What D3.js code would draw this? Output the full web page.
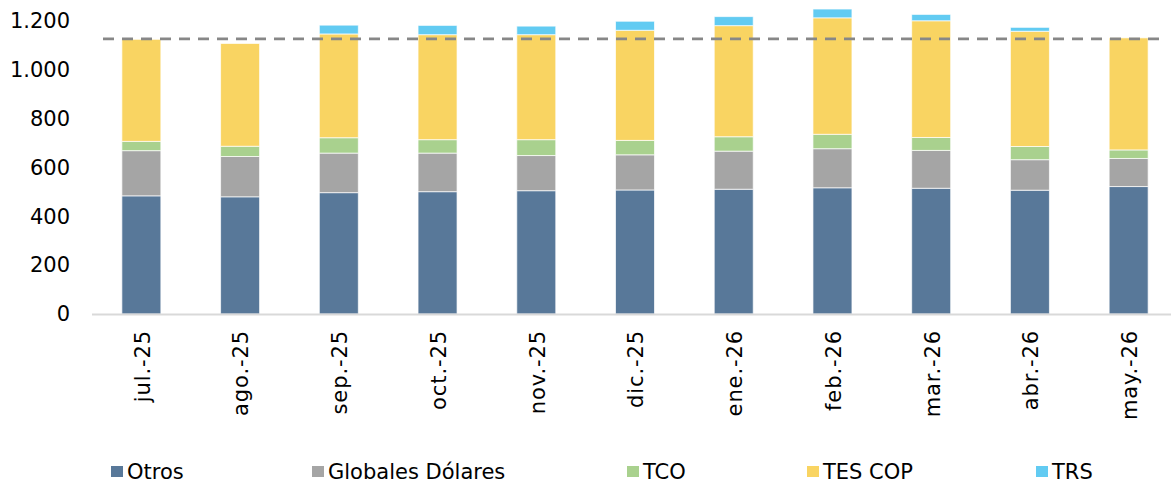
<!DOCTYPE html>
<html>
<head>
<meta charset="utf-8">
<script src="https://cdn.jsdelivr.net/npm/d3@7"></script>
<style>
  body { margin: 0; background: #fff; }
  text { font-family: "DejaVu Sans", Verdana, sans-serif; fill: #000; }
</style>
</head>
<body>
<div id="chart"></div>
<script>
// data
const months = ["jul.-25", "ago.-25", "sep.-25", "oct.-25", "nov.-25", "dic.-25",
                "ene.-26", "feb.-26", "mar.-26", "abr.-26", "may.-26"];
const seriesNames = ["Otros", "Globales Dólares", "TCO", "TES COP", "TRS"];
const otros    = [484, 480, 497, 501, 505, 508, 511, 517, 515, 507, 522];
const globales = [185, 165, 162, 158, 144, 144, 156, 160, 155, 125, 115];
const tco      = [38, 42, 63, 55, 65, 59, 59, 59, 53, 54, 35];
const tesCop   = [418, 421, 425, 430, 430, 451, 455, 477, 478, 472, 459];
const trs      = [0, 0, 36, 38, 35, 37, 37, 36, 26, 16, 0];
const refLine  = 1127;
const yTicks   = [0, 200, 400, 600, 800, 1000, 1200];

const colors = ["#587899", "#a5a5a5", "#a9d18e", "#f9d462", "#62cbf2"];
const seriesValues = [otros, globales, tco, tesCop, trs];

const width = 1171, height = 485;
const svg = d3.select("#chart").append("svg")
    .attr("width", width)
    .attr("height", height);

const x = d3.scaleBand()
    .domain(months)
    .range([92, 1178])
    .padding(0);
const barW = x.step() * 0.395;

const y = d3.scaleLinear()
    .domain([0, 1200])
    .range([314, 21]);

// stack
const rows = months.map((m, i) => {
  const r = { month: m };
  seriesNames.forEach((s, k) => r[s] = seriesValues[k][i]);
  return r;
});
const stacked = d3.stack().keys(seriesNames)(rows);

svg.append("g").selectAll("g")
  .data(stacked)
  .enter().append("g")
    .attr("fill", (d, i) => colors[i])
  .selectAll("rect")
  .data(d => d.filter(p => p[1] - p[0] > 0))
  .enter().append("rect")
    .attr("x", d => x(d.data.month) + (x.step() - barW) / 2)
    .attr("y", d => y(d[1]))
    .attr("width", barW)
    .attr("height", d => y(d[0]) - y(d[1]))
    .attr("stroke", "#fff")
    .attr("stroke-opacity", 0.7)
    .attr("stroke-width", 1);

// baseline
svg.append("line")
    .attr("x1", 92).attr("x2", width)
    .attr("y1", y(0) + 0.5).attr("y2", y(0) + 0.5)
    .attr("stroke", "#d9d9d9")
    .attr("stroke-width", 2);

// reference dashed line
svg.append("line")
    .attr("x1", 103).attr("x2", 1159)
    .attr("y1", y(refLine)).attr("y2", y(refLine))
    .attr("stroke", "#878787")
    .attr("stroke-width", 2.7)
    .attr("stroke-dasharray", "11,8");

// y axis labels
const fmt = v => d3.format(",")(v).replace(/,/g, ".");
const yAxis = svg.append("g")
    .attr("transform", "translate(92,0)")
    .call(d3.axisLeft(y).tickValues(yTicks).tickFormat(fmt).tickSize(0).tickPadding(22));
yAxis.select(".domain").remove();
yAxis.selectAll("text")
    .style("font-size", "21px")
    .style("font-family", "'DejaVu Sans', Verdana, sans-serif")
    .attr("fill", "#000");

// x axis labels
const xAxis = svg.append("g")
    .attr("transform", `translate(0,${y(0)})`)
    .call(d3.axisBottom(x).tickSize(0).tickPadding(0));
xAxis.select(".domain").remove();
xAxis.selectAll("text")
    .attr("transform", "rotate(-90)")
    .attr("x", -16)
    .attr("y", 1)
    .attr("dy", "0.35em")
    .attr("dx", 0)
    .style("text-anchor", "end")
    .style("font-size", "21px")
    .style("letter-spacing", "0.9px")
    .style("font-family", "'DejaVu Sans', Verdana, sans-serif")
    .attr("fill", "#000");

// legend
const legendX = [111, 312, 627, 807, 1036];
const legend = svg.append("g").selectAll("g")
  .data(seriesNames)
  .enter().append("g")
    .attr("transform", (d, i) => `translate(${legendX[i]},466)`);
legend.append("rect")
    .attr("width", 12).attr("height", 11)
    .attr("fill", (d, i) => colors[i]);
legend.append("text")
    .attr("x", 16).attr("y", 13)
    .style("font-size", "21px")
    .text(d => d);
</script>
</body>
</html>
